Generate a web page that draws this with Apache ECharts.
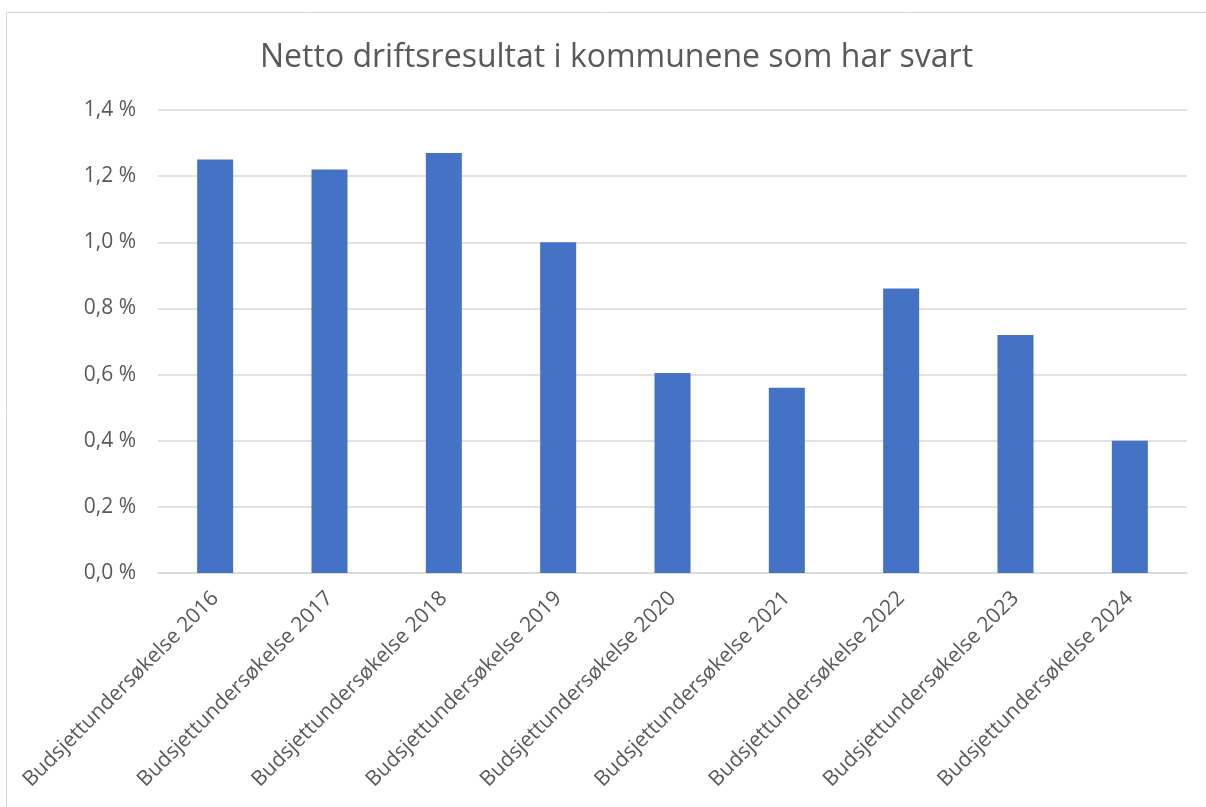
<!DOCTYPE html>
<html>
<head>
<meta charset="utf-8">
<script src="https://cdn.jsdelivr.net/npm/echarts@6/dist/echarts.min.js"></script>
<style>
  html, body { margin: 0; padding: 0; background: #fff; }
  #main { width: 1206px; height: 807px; }
</style>
</head>
<body>
<div id="main"></div>
<script>
// kategorier og verdier (prosent)
var categories = [
  'Budsjettundersøkelse 2016', 'Budsjettundersøkelse 2017', 'Budsjettundersøkelse 2018',
  'Budsjettundersøkelse 2019', 'Budsjettundersøkelse 2020', 'Budsjettundersøkelse 2021',
  'Budsjettundersøkelse 2022', 'Budsjettundersøkelse 2023', 'Budsjettundersøkelse 2024'
];
var values = [1.25, 1.22, 1.27, 1.0, 0.605, 0.56, 0.86, 0.72, 0.4];
var yTicks = [0, 0.2, 0.4, 0.6, 0.8, 1.0, 1.2, 1.4];

var textColor = '#595959';
var font = '"Open Sans", "Noto Sans", sans-serif';

var myChart = echarts.init(document.getElementById('main'));

var option = {
  backgroundColor: '#fff',
  animation: false,
  title: {
    text: 'Netto driftsresultat i kommunene som har svart',
    left: 255,
    top: 37,
    textStyle: {
      color: textColor,
      fontSize: 32,
      fontWeight: 'normal',
      fontFamily: font
    }
  },
  graphic: [{
    type: 'rect',
    shape: { x: 6.5, y: 12.5, width: 1220, height: 820 },
    style: { fill: 'none', stroke: '#d9d9d9', lineWidth: 1 },
    silent: true
  }],
  grid: {
    left: 158,
    right: 19,
    top: 110,
    bottom: 234
  },
  xAxis: {
    type: 'category',
    data: categories,
    axisLine: { lineStyle: { color: '#d9d9d9', width: 1.5 } },
    axisTick: { show: false },
    axisLabel: {
      rotate: 45,
      interval: 0,
      margin: 22,
      color: textColor,
      fontSize: 21,
      fontFamily: font
    }
  },
  yAxis: {
    type: 'value',
    min: yTicks[0],
    max: yTicks[yTicks.length - 1],
    interval: 0.2,
    axisLine: { show: false },
    axisTick: { show: false },
    splitLine: { lineStyle: { color: '#d9d9d9', width: 1.5 } },
    axisLabel: {
      margin: 22,
      color: textColor,
      fontSize: 21,
      fontFamily: font,
      formatter: function (v) {
        return v.toFixed(1).replace('.', ',') + ' %';
      }
    }
  },
  series: [{
    type: 'bar',
    data: values,
    barWidth: 36,
    itemStyle: { color: '#4472C4' }
  }]
};

myChart.setOption(option);
</script>
</body>
</html>
